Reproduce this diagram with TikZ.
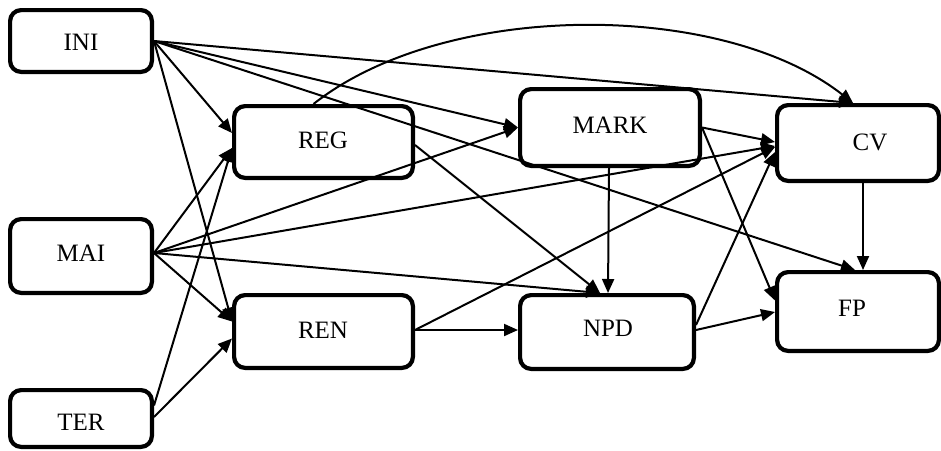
\documentclass[tikz,border=0pt]{standalone}
\usepackage{fontspec}
\setmainfont{Liberation Serif}
\usetikzlibrary{arrows.meta}
\begin{document}
\begin{tikzpicture}[x=1pt,y=-1pt,
  box/.style={draw, line width=4.2pt, rounded corners=11pt, inner sep=0pt},
  lbl/.style={font=\fontsize{25}{28}\selectfont, inner sep=0pt},
  arr/.style={line width=2pt, -{Triangle[length=14pt,width=12pt]}}]
\path[use as bounding box] (0,0) rectangle (941,450);
% boxes
\node[box, minimum width=141.8pt, minimum height=61.8pt] (ini) at (81,41) {};
\node[box, minimum width=141.8pt, minimum height=73.8pt] (mai) at (81,256) {};
\node[box, minimum width=141.8pt, minimum height=56.8pt] (ter) at (81,418.5) {};
\node[box, minimum width=178.8pt, minimum height=71.8pt] (reg) at (323.5,142) {};
\node[box, minimum width=178.8pt, minimum height=72.8pt] (ren) at (323.5,331.5) {};
\node[box, minimum width=179.8pt, minimum height=76.8pt] (mark) at (610,127.5) {};
\node[box, minimum width=173.8pt, minimum height=73.8pt] (npd) at (607,332) {};
\node[box, minimum width=161.8pt, minimum height=75.8pt] (cv) at (858,143) {};
\node[box, minimum width=161.8pt, minimum height=78.8pt] (fp) at (858,311.5) {};
% labels
\node[lbl] (tini) at (81,42) {INI};
\node[lbl] (tmai) at (81,253) {MAI};
\node[lbl] (tter) at (81,422) {TER};
\node[lbl] (treg) at (323,140) {REG};
\node[lbl] (tren) at (323,330) {REN};
\node[lbl] (tmark) at (610,125) {MARK};
\node[lbl] (tnpd) at (608,328) {NPD};
\node[lbl] (tcv) at (870,142) {CV};
\node[lbl] (tfp) at (852,308) {FP};
% edges from INI
\draw[arr] (ini.east) -- ([yshift=9pt]reg.west);
\draw[arr] (ini.east) -- ([yshift=10pt]ren.west);
\draw[arr] (ini.east) -- (mark.west);
\draw[arr] (ini.east) -- ([xshift=-5pt]cv.north);
\draw[arr] (ini.east) -- ([xshift=-3pt]fp.north);
% edges from MAI
\draw[arr] ([yshift=3pt]mai.east) -- ([yshift=-6pt]reg.west);
\draw[arr] ([yshift=3pt]mai.east) -- ([yshift=10pt]ren.west);
\draw[arr] ([yshift=3pt]mai.east) -- (mark.west);
\draw[arr] ([yshift=3pt]mai.east) -- ([yshift=-3pt]cv.west);
\draw[arr] ([yshift=3pt]mai.east) -- ([xshift=-7pt]npd.north);
% edges from TER
\draw[arr] ([yshift=13pt]ter.east) -- ([yshift=-6pt]reg.west);
\draw[arr] ([yshift=1.5pt]ter.east) -- ([yshift=-7pt]ren.west);
% edges from REG
\draw[arr] ([yshift=-3pt]reg.east) -- ([xshift=-7pt]npd.north);
\draw[arr] ([xshift=-10pt]reg.north) .. controls (445,0) and (722,0) .. ([xshift=-5pt]cv.north);
% edges from MARK
\draw[arr] ([xshift=-1pt]mark.south) -- ([xshift=1pt]npd.north);
\draw[arr] (mark.east) -- ([yshift=1pt]cv.west);
\draw[arr] (mark.east) -- ([yshift=11pt]fp.west);
% edges from REN
\draw[arr] ([yshift=1.5pt]ren.east) -- ([yshift=1.5pt]ren.east -| npd.west);
\draw[arr] ([yshift=1.5pt]ren.east) -- ([yshift=-4pt]cv.west);
% edges from NPD
\draw[arr] ([yshift=7pt]npd.east) -- ([yshift=-9pt]cv.west);
\draw[arr] ([yshift=2pt]npd.east) -- ([yshift=-0.5pt]fp.west);
% CV to FP
\draw[arr] ([xshift=5pt]cv.south) -- ([xshift=5pt]fp.north);
\end{tikzpicture}
\end{document}
